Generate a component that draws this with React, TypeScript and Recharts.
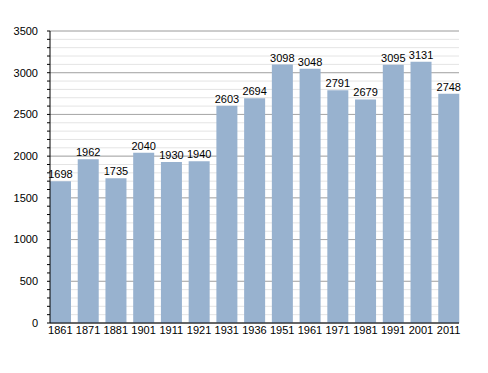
import React from 'react';
import { BarChart, Bar, XAxis, YAxis, CartesianGrid, LabelList } from 'recharts';

const years = ['1861', '1871', '1881', '1901', '1911', '1921', '1931', '1936', '1951', '1961', '1971', '1981', '1991', '2001', '2011'];
const population = [1698, 1962, 1735, 2040, 1930, 1940, 2603, 2694, 3098, 3048, 2791, 2679, 3095, 3131, 2748];
const minorTicks = [0, 100, 200, 300, 400, 500, 600, 700, 800, 900, 1000, 1100, 1200, 1300, 1400, 1500, 1600, 1700, 1800, 1900, 2000, 2100, 2200, 2300, 2400, 2500, 2600, 2700, 2800, 2900, 3000, 3100, 3200, 3300, 3400, 3500];
const majorTicks = [0, 500, 1000, 1500, 2000, 2500, 3000, 3500];

const data = years.map((y, i) => ({ year: y, value: population[i] }));

const FONT = '"Liberation Sans", Arial, Helvetica, sans-serif';

export default function App() {
  return (
    <div style={{ position: 'absolute', left: 0, top: 0 }}>
      <BarChart
        width={488}
        height={373}
        data={data}
        margin={{ top: 31, right: 29, bottom: 20, left: 0 }}
        barCategoryGap="12.6%"
      >
        <CartesianGrid vertical={false} horizontalValues={minorTicks} stroke="#e4e4e4" strokeWidth={1} />
        <CartesianGrid vertical={false} horizontalValues={majorTicks} stroke="#a8a8a8" strokeWidth={1} />
        <XAxis
          dataKey="year"
          padding={{ left: -3.5, right: -3.5 }}
          tickLine={false}
          tickSize={0}
          tickMargin={3}
          stroke="#000"
          tick={{ fill: '#000', fontSize: 11, fontFamily: FONT }}
          interval={0}
        />
        <YAxis
          width={50}
          domain={[0, 3500]}
          ticks={minorTicks}
          interval={0}
          tickSize={3}
          tickMargin={9}
          stroke="#000"
          tickFormatter={(v: number) => (v % 500 === 0 ? String(v) : '')}
          tick={{ fill: '#000', fontSize: 11, fontFamily: FONT }}
        />
        <Bar dataKey="value" fill="#98b2cf" isAnimationActive={false}>
          <LabelList dataKey="value" position="top" offset={3} fill="#000" fontSize={11} fontFamily={FONT} />
        </Bar>
      </BarChart>
    </div>
  );
}
